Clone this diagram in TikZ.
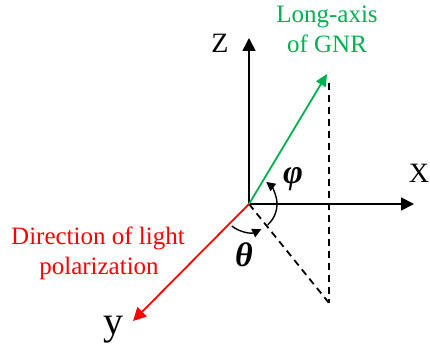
\documentclass[tikz,border=0pt]{standalone}
\usepackage{fontspec}
\setmainfont{Liberation Serif}
\newfontfamily\tnr{Liberation Serif}
\usetikzlibrary{arrows.meta}
\definecolor{gnrgreen}{RGB}{0,176,80}
\definecolor{polred}{RGB}{255,0,0}
\begin{document}
\begin{tikzpicture}[x=1pt,y=1pt,
  axis/.style={line width=1.8pt,-{Triangle[length=13pt,width=13pt]}},
  proj/.style={line width=1.8pt,dash pattern=on 7pt off 5pt},
  anglearc/.style={line width=1.4pt,-{Triangle[length=9pt,width=9pt]}},
  lbl/.style={inner sep=0pt,anchor=base,font=\tnr\fontsize{28}{32}\selectfont},
  txt/.style={inner sep=0pt,align=center,font=\tnr\fontsize{25}{30}\selectfont},
  grk/.style={inner sep=0pt,font=\tnr\bfseries\itshape\fontsize{34}{38}\selectfont}]
\useasboundingbox (0,0) rectangle (430,347);
\coordinate (O) at (249,143);
\coordinate (Zt) at (249,309);
\coordinate (Xt) at (414,143);
\coordinate (Yt) at (133,26);
\coordinate (Gt) at (327,273);
\coordinate (Dt) at (329,264);
\coordinate (Db) at (329,44);
% projection lines
\draw[proj] (Dt) -- (Db);
\draw[proj] (O) -- (Db);
% axes
\draw[axis] (O) -- (Zt);
\draw[axis] (O) -- (Xt);
\draw[axis,polred] (O) -- (Yt);
\draw[axis,gnrgreen,-{Triangle[length=12pt,width=11pt]}] (O) -- (Gt);
% angle arcs
\draw[anglearc] ([shift={(-48:28)}]O) arc[start angle=-48,end angle=52,radius=28];
\draw[anglearc] ([shift={(232:28)}]O) arc[start angle=232,end angle=296,radius=28];
% labels
\node[lbl] (zl) at (220,294) {Z};
\node[lbl] (xl) at (419,164) {X};
\node[lbl,font=\tnr\fontsize{40}{44}\selectfont] (yl) at (113,12) {y};
\node[txt,text=polred,anchor=base] (pol1) at (98,102) {Direction of light};
\node[txt,text=polred,anchor=base] (pol2) at (99,72) {polarization};
\node[txt,text=gnrgreen,anchor=base] (gnr1) at (327,324) {Long-axis};
\node[txt,text=gnrgreen,anchor=base] (gnr2) at (327,294) {of GNR};
\node[grk] (phi) at (293,168) {φ};
\node[grk] (theta) at (244,92) {θ};
\end{tikzpicture}
\end{document}
